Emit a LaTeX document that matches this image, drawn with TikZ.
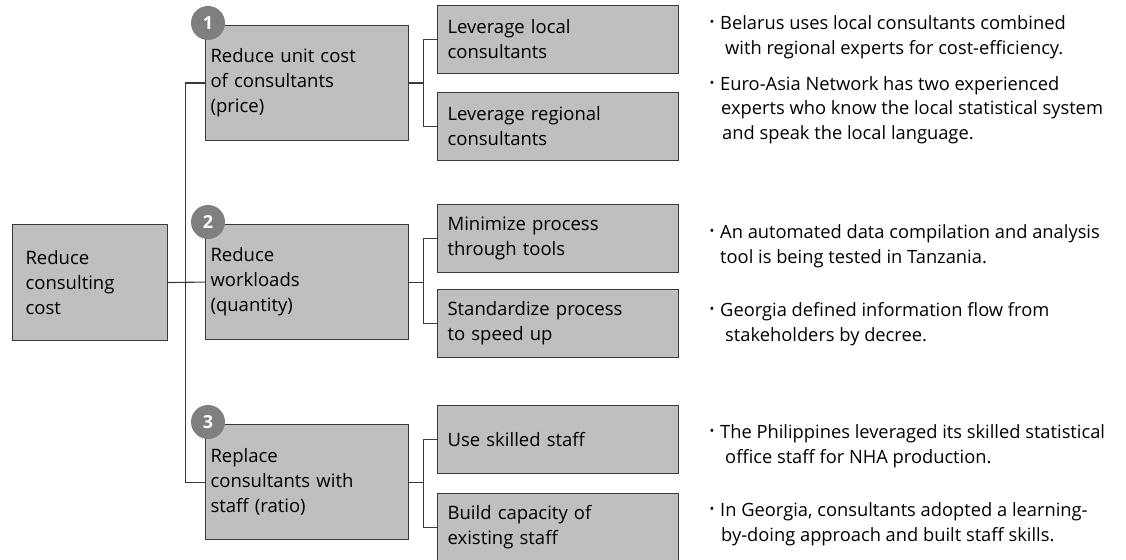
\documentclass[tikz,border=0pt]{standalone}
\usepackage{fontspec}
\setmainfont{Open Sans}
\usetikzlibrary{positioning,calc}
\definecolor{boxfill}{HTML}{BEBFC1}
\definecolor{boxline}{HTML}{3A3A3A}
\definecolor{badgefill}{HTML}{7F7F7F}
\newcommand{\blt}{\makebox[12pt][l]{\hspace{1.5pt}\raisebox{0.28ex}{\scalebox{0.7}{\textbullet}}}}
\tikzset{
	box/.style={draw=boxline,fill=boxfill,line width=1.1pt,anchor=north west,align=left,inner ysep=0pt,font=\fontsize{18.5}{25}\selectfont},
	rootbox/.style={box,minimum width=155pt,minimum height=116pt,inner xsep=13pt,text width=129pt},
	mainbox/.style={box,minimum width=203pt,minimum height=115pt,inner xsep=5pt,text width=193pt},
	subbox/.style={box,minimum width=241pt,minimum height=68pt,inner xsep=10pt,text width=221pt},
	badge/.style={circle,fill=badgefill,text=white,minimum size=34pt,inner sep=0pt,font=\fontsize{18}{18}\selectfont\bfseries},
	note/.style={anchor=west,align=left,inner sep=0pt,font=\fontsize{18.3}{24.5}\selectfont},
	link/.style={draw=boxline,line width=1.1pt}
}

\begin{document}
\begin{tikzpicture}[x=1pt,y=-1pt]
			\useasboundingbox (0,0) rectangle (1126,559);
			\node[rootbox] (root) at (12,224) {Reduce\\consulting\\cost};
			\node[mainbox] (price) at (205,25) {Reduce unit cost\\of consultants\\(price)};
			\node[mainbox] (quantity) at (205,224) {Reduce\\workloads\\(quantity)};
			\node[mainbox] (ratio) at (205,424) {Replace\\consultants with\\staff (ratio)};
			\node[subbox] (local) at (437,5) {Leverage local\\consultants};
			\node[subbox] (regional) at (437,92) {Leverage regional\\consultants};
			\node[subbox] (tools) at (437,204) {Minimize process\\through tools};
			\node[subbox] (standard) at (437,289) {Standardize process\\to speed up};
			\node[subbox] (skilled) at (437,405) {Use skilled staff};
			\node[subbox] (capacity) at (437,493) {Build capacity of\\existing staff};
			\node[badge] (badge1) at ([xshift=3pt,yshift=2pt]price.north west) {1};
			\node[badge] (badge2) at ([xshift=3pt,yshift=2pt]quantity.north west) {2};
			\node[badge] (badge3) at ([xshift=3pt,yshift=2pt]ratio.north west) {3};
			\coordinate (trunk) at ($(root.east)+(17,0)$);
			\draw[link] (root.east) -- (quantity.west);
			\draw[link] (price.west) -| (trunk) |- (ratio.west);
			\foreach \a/\b/\c in {price/local/regional,quantity/tools/standard,ratio/skilled/capacity}{
				\coordinate (fork) at ($(\a.east)+(14,0)$);
				\draw[link] (\a.east) -- (fork);
				\draw[link] (\b.west) -| (fork) |- (\c.west);
			}
			\node[note] (note1) at (708,37) {\blt Belarus uses local consultants combined\\\hspace*{17pt}with regional experts for cost-efficiency.};
			\node[note] (note2) at (708,110) {\blt Euro-Asia Network has two experienced\\\hspace*{13pt}experts who know the local statistical system\\\hspace*{14pt}and speak the local language.};
			\node[note] (note3) at (708,246) {\blt An automated data compilation and analysis\\\hspace*{12pt}tool is being tested in Tanzania.};
			\node[note] (note4) at (708,324) {\blt Georgia defined information flow from\\\hspace*{17pt}stakeholders by decree.};
			\node[note] (note5) at (708,446) {\blt The Philippines leveraged its skilled statistical\\\hspace*{17pt}office staff for NHA production.};
			\node[note] (note6) at (708,524) {\blt In Georgia, consultants adopted a learning-\\\hspace*{13pt}by-doing approach and built staff skills.};
		\end{tikzpicture}
\end{document}
